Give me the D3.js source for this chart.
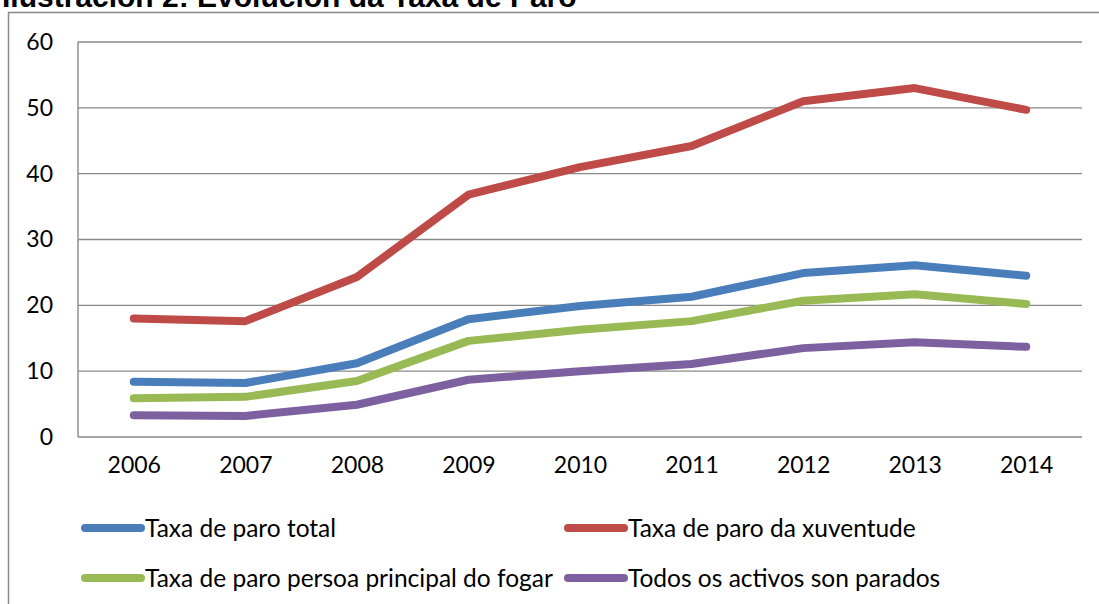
<!DOCTYPE html>
<html>
<head>
<meta charset="utf-8">
<script src="https://cdn.jsdelivr.net/npm/d3@7"></script>
<style>
  body { margin: 0; background: #fff; }
  svg { display: block; }
</style>
</head>
<body>
<div id="chart"></div>
<script>
var years = ["2006", "2007", "2008", "2009", "2010", "2011", "2012", "2013", "2014"];
var yTicks = [0, 10, 20, 30, 40, 50, 60];

var seriesNames = ["Taxa de paro total", "Taxa de paro da xuventude",
                   "Taxa de paro persoa principal do fogar", "Todos os activos son parados"];
var total    = [8.4, 8.2, 11.2, 17.9, 19.9, 21.3, 24.9, 26.1, 24.5];
var xuventude = [18.0, 17.6, 24.3, 36.8, 41.0, 44.2, 51.0, 53.0, 49.7];
var persoa   = [5.9, 6.1, 8.5, 14.6, 16.3, 17.6, 20.7, 21.7, 20.2];
var todos    = [3.3, 3.2, 4.9, 8.7, 10.0, 11.1, 13.5, 14.4, 13.7];
var colors = ["#4a7ebb", "#be4b48", "#98b954", "#7d60a0"];

var W = 1099, H = 604;
var margin = {top: 42, right: 17, bottom: 167, left: 78},
    width = W - margin.left - margin.right,
    height = H - margin.top - margin.bottom;

var svg = d3.select("#chart").append("svg")
    .attr("width", W)
    .attr("height", H);

// chart frame (runs off the right and bottom edges like the original)
svg.append("rect")
  .attr("x", 8.5).attr("y", 12.5)
  .attr("width", W + 20).attr("height", H + 20)
  .attr("fill", "none")
  .attr("stroke", "#888")
  .attr("stroke-width", 1.5);

// title, clipped at the top in the original
svg.append("text")
  .attr("x", 2).attr("y", 7)
  .attr("font-family", "Liberation Sans, Arial, sans-serif")
  .attr("font-weight", "bold")
  .attr("font-size", 30)
  .text("Ilustración 2: Evolución da Taxa de Paro");

var g = svg.append("g")
  .attr("transform", "translate(" + margin.left + "," + margin.top + ")");

var x = d3.scalePoint()
  .domain(years)
  .range([0, width])
  .padding(0.5);

var y = d3.scaleLinear()
  .domain([0, 60])
  .range([height, 0]);

// gridlines
g.append("g")
  .selectAll("line")
  .data(yTicks)
  .join("line")
    .attr("x1", 0).attr("x2", width)
    .attr("y1", function(d) { return y(d); })
    .attr("y2", function(d) { return y(d); })
    .attr("stroke", "#888")
    .attr("stroke-width", 1.4);

g.append("line")
  .attr("x1", 0).attr("x2", 0)
  .attr("y1", 0).attr("y2", height)
  .attr("stroke", "#888")
  .attr("stroke-width", 1.4);

var yAxis = g.append("g")
  .call(d3.axisLeft(y).tickValues(yTicks).tickSize(0).tickPadding(25));
yAxis.select(".domain").remove();

var xAxis = g.append("g")
  .attr("transform", "translate(0," + height + ")")
  .call(d3.axisBottom(x).tickSize(0).tickPadding(20));
xAxis.select(".domain").remove();

g.selectAll(".tick text")
  .attr("font-family", "Lato, sans-serif")
  .attr("font-size", 23)
  .attr("fill", "#000");

var allSeries = [total, xuventude, persoa, todos];
var line = d3.line()
  .x(function(d, i) { return x(years[i]); })
  .y(function(d) { return y(d); });

[1, 0, 2, 3].forEach(function(k) {
  g.append("path")
    .datum(allSeries[k])
    .attr("fill", "none")
    .attr("stroke", colors[k])
    .attr("stroke-width", 8)
    .attr("stroke-linecap", "round")
    .attr("stroke-linejoin", "round")
    .attr("d", line);
});

// legend
var legendPos = [[85, 528], [568, 528], [85, 578], [568, 578]];
var legend = svg.append("g")
  .selectAll("g")
  .data(seriesNames)
  .join("g")
    .attr("transform", function(d, i) { return "translate(" + legendPos[i][0] + "," + legendPos[i][1] + ")"; });

legend.append("line")
  .attr("x1", 0).attr("x2", 56)
  .attr("stroke", function(d, i) { return colors[i]; })
  .attr("stroke-width", 8)
  .attr("stroke-linecap", "round");

legend.append("text")
  .attr("x", 60)
  .attr("dy", "0.36em")
  .attr("font-family", "Lato, sans-serif")
  .attr("font-size", 24.5)
  .text(function(d) { return d; });
</script>
</body>
</html>
